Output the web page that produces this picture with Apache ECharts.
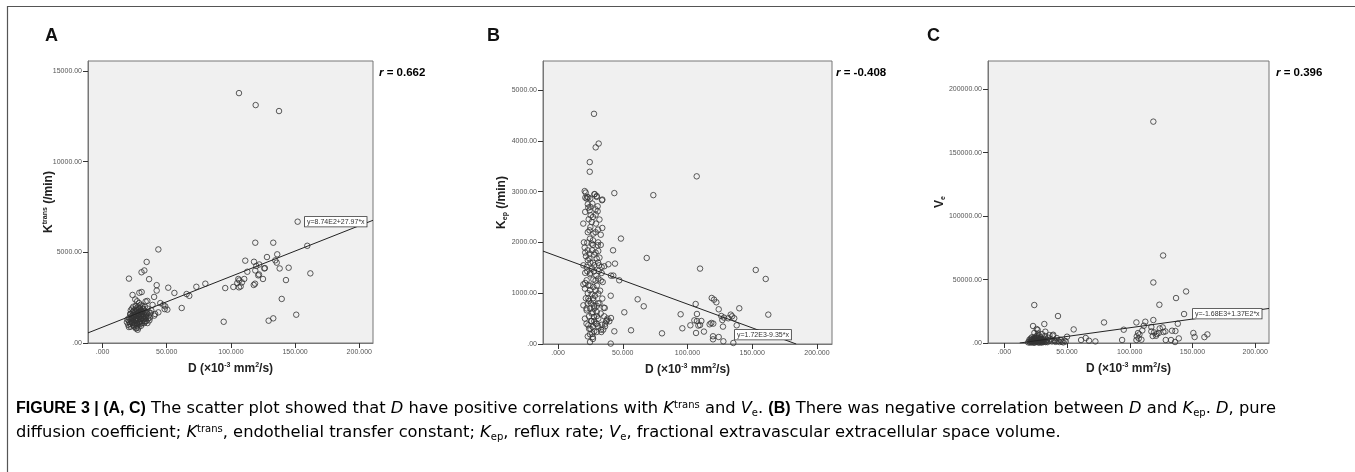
<!DOCTYPE html>
<html><head><meta charset="utf-8">
<script src="https://cdn.jsdelivr.net/npm/echarts@6/dist/echarts.min.js"></script>
<style>html,body{margin:0;padding:0;background:#fff}#c{width:1355px;height:472px}</style>
</head><body><div id="c"></div>
<script>
// ---------- data ----------
const panelLabels = ['A', 'B', 'C'];
const rValues = ['0.662', '-0.408', '0.396'];
const xTicks = [0, 50, 100, 150, 200];
const yTicksA = [0, 5000, 10000, 15000];
const yTicksB = [0, 1000, 2000, 3000, 4000, 5000];
const yTicksC = [0, 50000, 100000, 150000, 200000];
const fitA = [874, 27.97];     // intercept, slope
const fitB = [1720, -9.35];
const fitC = [-1680, 137];
const eqTexts = ['y=8.74E2+27.97*x', 'y=1.72E3-9.35*x', 'y=-1.68E3+1.37E2*x'];

const ptsA = [[106.3,13780],[119.3,13120],[137.5,12790],
[152,6690],[159.5,5360],[161.9,3840],[119,5530],[133,5530],[136.1,4890],[128.1,4740],[111.2,4540],[118,4480],[134.6,4560],[135.7,4430],[138,4110],[145,4150],[126.5,4130],[112.8,3930],[122.1,4330],[119.8,4250],[119,4000],[121.9,3780],[121.3,3730],[125,3530],[126,4110],[105.8,3530],[106.5,3450],[105,3310],[110.4,3530],[108.6,3340],[107.6,3120],[106.3,3070],[117.8,3200],[118.8,3270],[101.9,3090],[95.6,3030],[142.9,3470],[139.6,2430],[150.9,1560],[133,1360],[129.4,1230],[94.4,1170],[80.1,3270],[73.1,3100],[51.2,3050],[56,2760],[65.5,2700],[67.6,2600],[61.7,1930],[50.5,1840],
[43.5,5160],[34.4,4470],[32.6,4000],[30.4,3900],[36.3,3520],[20.6,3550],[42.2,3190],[42.2,2890],[30.5,2810],[28.7,2770],[23.4,2650],[40.2,2540],[34.9,2320],[33.6,2290],[48.9,2020],[47.4,2100],[48.4,1870],[43.5,1690],[40.3,1510],[41,1600],[38,1800],[37,1400],[45,2200],[39,2100],
[19,1150],[19.5,1300],[20.6,880],[27.4,730],[26.6,830],[21,1150],[22,1250],[21.5,1050],[22.5,1400],[23,1100],[23.5,1300],[24,1550],[24,1200],[24.5,1000],[25,1700],[25,1450],[25.5,1250],[26,1900],[26,1600],[26.5,1350],[26.5,1100],[27,1800],[27,950],[27.5,1500],[27.5,1250],[28,2000],[28,1700],[28.5,1400],[28.5,1150],[29,1900],[29,1600],[29.5,1300],[29.5,1050],[30,1800],[30,1500],[30.5,1200],[31,1700],[31,1400],[31.5,1900],[32,1600],[32,1300],[32.5,1100],[33,1750],[33.5,1450],[34,1200],[34.5,1650],[35,1900],[36,1500],[36.5,1250],[22,1600],[23,1900],[24,2000],[25,900],[26,800],[28,850],[29.5,2100],[31,2050],[30,950],[26,2050],[24.5,1800],[23,1500],[35.5,1350],[37.5,1650],[33,2000],[28.5,2200],[27,2300],[25.5,2400],
[20,1000],[20.5,1250],[21,1400],[21.5,1600],[22,900],[22.5,1150],[23,1350],[23.5,1700],[24,950],[24.5,1450],[25,1100],[25.5,1550],[26,1250],[26.5,1800],[27,1050],[27.5,1650],[28,1300],[28.5,1900],[29,1150],[29.5,1750],[30,1350],[30.5,1600],[31,1100],[31.5,1500],[32,1850],[32.5,1350],[33,1200],[34,1550],[35,1100],[36,1700],[22,1800],[24,1750],[26,1400],[28,1550],[30,1700],[32,1450],[34,1400]];

const ptsB = [[27.8,4530],[31.4,3945],[29.1,3870],[24.5,3580],[24.5,3390],[107.1,3300],[20.6,3010],[21.4,2980],[43.5,2970],[73.6,2930],[28.3,2950],[29.9,2895],[22.6,2895],[21.1,2880],[34.2,2843],
[23.4,2881],[22.1,2862],[24.9,2862],[29.9,2913],[28.1,2947],[34,2829],[26.5,2763],[30.6,2711],[23.4,2684],[24.4,2632],[30.6,2612],[25.2,2533],[29.1,2546],[23.7,2455],[26,2402],[29.3,2370],[34.2,2284],[30.9,2252],[24.4,2238],[27.3,2173],[24.7,2074],[27,2041],[22.6,1996],[26,1976],[30.6,1943],[20.6,1897],[22.9,1844],[26.3,1844],[31.1,1831],[24.4,1779],[27.8,1759],[21.6,1726],[24.2,1681],[29.9,1681],[19.6,1549],[22.1,1516],[26.3,1484],[31.7,1549],[33.7,1516],[22.6,1431],[27.8,1431],[31.4,1437],[33.7,1398],[24.7,1372],[29.6,1346],[27.3,1268],[31.1,1287],[34.5,1220],[22.1,1254],[19.6,1175],[23.4,1155],[27.3,1122],[20.8,1090],[24.7,1057],[29.1,1057],[26,978],[31.1,992],[34.2,894],[23.4,894],[27.3,860],[22.9,795],[19.6,762],[27.8,748],[35.3,716],[24.9,697],[22.1,663],[26.8,630],[29.9,630],[23.9,545],[27.8,531],[20.8,500],[31.1,500],[25.5,453],[29.1,401],[23.4,368],[26.8,335],[33.2,283],[29.9,236],[24.7,191],[26.5,205],[26.8,138],[24.7,39],
[19.5,2370],[20,2000],[21,1400],[25,1600],[28,1550],[32,1700],[33,1950],[30,1150],[32.5,1050],[21.5,900],[25.5,800],[28.5,950],[30,750],[33,600],[25,300],[28,450],[22,400],[31,350],[27,1950],[23,2200],[32,2450],
[21,2600],[23,2750],[25,2300],[27,2500],[29,2200],[31,2000],[33,2150],[21,1800],[23,1650],[25,1400],[27,1600],[29,1800],[31,1600],[33,1250],[21,1200],[23,1000],[25,1150],[27,900],[29,1250],[31,800],[22,700],[24,850],[26,600],[28,700],[30,550],[32,800],[24,300],[26,450],[28,250],[30,400],[23,150],[27,100],[25,2700],[29,2650],
[35.7,545],[37.6,467],[38.2,500],[36.5,400],[33.9,380],[34.9,282],[33.4,236],
[48.6,2075],[68.5,1693],[42.5,1844],[44,1582],[38.9,1569],[35.7,1530],[109.7,1484],[152.7,1457],[160.4,1280],[47.3,1254],[40.9,1346],[42.7,1346],[40.7,950],[61.5,880],[66.2,742],[106.3,787],[51.2,624],[94.7,585],[107.3,591],[140,703],[162.4,578],[118.7,906],[120.5,873],[122.3,821],[124.1,683],[43.5,250],[56.4,270],[80.3,210],[40.7,8],[135.4,20],[127.7,53],[119.7,92],[126.1,551],[128.2,520],[131.5,506],[134.4,545],[136.1,506],[138,368],[133.4,578],[127.4,342],[126.9,472],[119.9,401],[117.1,388],[118.4,414],[110.7,453],[109.7,374],[108.4,362],[105.3,466],[107.3,453],[112.7,244],[106.6,217],[102.2,368],[96,309],[119.7,152],[124.1,138],[40.9,512],[39.6,447],[37.3,447],[36.3,348],[36.1,709]];

const ptsC = [[118.8,174500],[126.6,68980],[118.8,47720],[144.9,40630],[136.9,35430],[123.6,30160],[23.9,29920],[143.3,22830],[42.8,21260],[79.5,16220],[105.3,16220],[118.8,18110],[138.3,15200],[95.2,10470],[55.3,10710],[50,4960],[31.9,14960],[22.9,13390],[150.7,7870],[151.7,4720],[159.5,4650],[161.9,6770],[139.1,3620],[93.9,2360],
[112.4,16770],[111.2,13620],[110,9920],[117.2,12600],[117.2,9130],[119.4,8350],[121,5750],[123.1,7870],[126.8,8660],[128.4,9130],[133.7,9690],[136.4,9450],[126.3,12280],[123.9,11500],[121.5,7090],[118.3,5510],[106.6,7870],[107.7,6770],[105.6,5200],[107.2,3620],[109.3,2600],[105.3,2360],[128.7,2360],[132.9,2360],[136.1,790],[61.2,2360],[64.9,3940],[67.5,1810],[72.6,1260],
[19,500],[20,1200],[20.5,300],[21,2000],[21.5,800],[22,3000],[22,1500],[22.5,400],[23,2500],[23,1000],[23.5,4000],[24,1800],[24,600],[24.5,3200],[25,1200],[25,5000],[25.5,2200],[26,800],[26,3800],[26.5,1600],[27,2800],[27,500],[27.5,6000],[28,2000],[28,1000],[28.5,3500],[29,1500],[29,4500],[29.5,700],[30,2500],[30.5,1200],[31,3000],[31.5,800],[32,2000],[32.5,5500],[33,1300],[34,2600],[34.5,700],[35,4200],[36,1800],[37,3000],[38,1200],[39,6500],[40,2200],[41,900],[42,3800],[43,1500],[45,2500],[46,1000],[48,1800],[25.8,11020],[26.6,10240],[32.7,8900],[27,7500],[24,8000],[30,7000],[36,6200],[38.5,5800],[40,1500],[44,800],[47,500],[49,1200],
[20,2500],[21,3500],[22,4500],[23,1800],[24,2800],[25,3500],[26,1500],[27,4200],[28,2600],[29,3000],[30,1700],[31,2200],[32,3400],[33,700],[26,5500],[28,300],[30,400],[24,200]];

// ---------- layout / style ----------
const FONT = 'Liberation Sans';
const grids = [
  {left: 88, top: 61, width: 285, height: 282},
  {left: 543, top: 61, width: 289, height: 283},
  {left: 988, top: 61, width: 281, height: 282}
];
const xRanges = [[-11.3, 210.7], [-11.6, 211.6], [-13, 211]];
const yMax = [15550, 5570, 222300];
const yTicks = [yTicksA, yTicksB, yTicksC];
const fits = [fitA, fitB, fitC];
const pts = [ptsA, ptsB, ptsC];
const yNames = ['{b|K}{sup|trans}{b| (/min)}', '{b|K}{sub|ep}{b| (/min)}', '{b|V}{sub|e}'];
const yNameGaps = [32, 34, 41];

const nameRich = {
  b: {fontFamily: FONT, fontWeight: 'bold', fontSize: 12, color: '#222', lineHeight: 14},
  sup: {fontFamily: FONT, fontWeight: 'bold', fontSize: 7, color: '#222', verticalAlign: 'top', lineHeight: 8},
  sub: {fontFamily: FONT, fontWeight: 'bold', fontSize: 7, color: '#222', verticalAlign: 'bottom', lineHeight: 8}
};

function fmtY(v) { const s = v.toFixed(2); return s.startsWith('0.') ? s.slice(1) : s; }
function fmtX(v) { const s = v.toFixed(3); return s.startsWith('0.') ? s.slice(1) : s; }

function fitLine(fit, xr) {
  let x0 = xr[0], x1 = xr[1];
  const root = -fit[0] / fit[1];
  const f = x => fit[0] + fit[1] * x;
  if (f(x0) < 0) x0 = root;
  if (f(x1) < 0) x1 = root;
  return [[x0, f(x0)], [x1, f(x1)]];
}

const axisLine = {show: true, onZero: false, lineStyle: {color: '#777', width: 1}};
const xAxes = [], yAxes = [], series = [];
for (let i = 0; i < 3; i++) {
  xAxes.push({
    type: 'value', gridIndex: i, min: xRanges[i][0], max: xRanges[i][1], position: 'bottom',
    axisLine: axisLine, splitLine: {show: false},
    axisTick: {show: true, inside: false, length: 5, customValues: xTicks, lineStyle: {color: '#333', width: 1}},
    axisLabel: {customValues: xTicks, formatter: fmtX, fontSize: 7, color: '#555', margin: 6, fontFamily: FONT},
    name: '{b|D (×10}{sup|-3}{b| mm}{sup|2}{b|/s)}', nameLocation: 'middle', nameGap: 19, nameMoveOverlap: false,
    nameTextStyle: {rich: nameRich}
  });
  yAxes.push({
    type: 'value', gridIndex: i, min: 0, max: yMax[i], position: 'left',
    axisLine: axisLine, splitLine: {show: false},
    axisTick: {show: true, inside: false, length: 5, customValues: yTicks[i], lineStyle: {color: '#333', width: 1}},
    axisLabel: {customValues: yTicks[i], formatter: fmtY, fontSize: 7, color: '#555', margin: 6, fontFamily: FONT},
    name: yNames[i], nameLocation: 'middle', nameGap: yNameGaps[i], nameRotate: 90, nameMoveOverlap: false,
    nameTextStyle: {rich: nameRich}
  });
  series.push({
    type: 'line', xAxisIndex: i, yAxisIndex: i, data: fitLine(fits[i], xRanges[i]),
    symbol: 'none', silent: true, lineStyle: {color: '#222', width: 1}, z: 3, clip: true
  });
  series.push({
    type: 'scatter', xAxisIndex: i, yAxisIndex: i, data: pts[i], symbol: 'circle', symbolSize: 5.5,
    itemStyle: {color: 'rgba(0,0,0,0)', borderColor: '#333', borderWidth: 1}, z: 2
  });
}

const CF = 'DejaVu Sans';
const CS = 16.3;
const capRich = {
  n: {fontFamily: CF, fontSize: CS, color: '#333', lineHeight: 18},
  b: {fontFamily: FONT, fontSize: 16, fontWeight: 'bold', color: '#222', lineHeight: 18},
  i: {fontFamily: CF, fontSize: CS, fontStyle: 'italic', color: '#333', lineHeight: 18},
  sup: {fontFamily: CF, fontSize: 10, color: '#333', verticalAlign: 'top', lineHeight: 11},
  sub: {fontFamily: CF, fontSize: 10, color: '#333', verticalAlign: 'bottom', lineHeight: 9}
};
const cap1 = '{b|FIGURE 3 | (A, C)}{n| The scatter plot showed that }{i|D}{n| have positive correlations with }{i|K}{sup|trans}{n| and }{i|V}{sub|e}{n|. }{b|(B)}{n| There was negative correlation between }{i|D}{n| and }{i|K}{sub|ep}{n|. }{i|D}{n|, pure}';
const cap2 = '{n|diffusion coefficient; }{i|K}{sup|trans}{n|, endothelial transfer constant; }{i|K}{sub|ep}{n|, reflux rate; }{i|V}{sub|e}{n|, fractional extravascular extracellular space volume.}';

const rRich = {
  i: {fontFamily: FONT, fontSize: 11.5, fontWeight: 'bold', fontStyle: 'italic', color: '#222'},
  n: {fontFamily: FONT, fontSize: 11.5, fontWeight: 'bold', color: '#222'}
};

const letterX = [45, 487, 927];
const rX = [379, 836, 1276];
const eqPos = [[305, 217], [735, 330], [1193, 309]];

const graphic = [
  {type: 'rect', shape: {x: 7.5, y: 6.5, width: 1400, height: 500}, style: {fill: 'none', stroke: '#555', lineWidth: 1.2}, z: 0, silent: true}
];
for (let i = 0; i < 3; i++) {
  graphic.push({type: 'text', x: letterX[i], y: 27, z: 10,
    style: {text: panelLabels[i], font: 'bold 18px ' + FONT, fill: '#111'}});
  graphic.push({type: 'text', x: rX[i], y: 67, z: 10,
    style: {text: '{i|r}{n| = ' + rValues[i] + '}', rich: rRich}});
  graphic.push({type: 'text', x: eqPos[i][0], y: eqPos[i][1], z: 100,
    style: {text: eqTexts[i], font: '7px ' + FONT, fill: '#333', backgroundColor: '#fff',
      borderColor: '#333', borderWidth: 0.8, padding: [1.5, 2, 1, 2]}});
}
graphic.push({type: 'text', x: 16, y: 400, z: 10, style: {text: cap1, rich: capRich}});
graphic.push({type: 'text', x: 16, y: 424, z: 10, style: {text: cap2, rich: capRich}});

const chart = echarts.init(document.getElementById('c'), null, {renderer: 'canvas'});
chart.setOption({
  animation: false,
  backgroundColor: '#fff',
  grid: grids.map(g => Object.assign({show: true, backgroundColor: '#f0f0f0', borderColor: '#777', borderWidth: 1, containLabel: false}, g)),
  xAxis: xAxes, yAxis: yAxes, series: series, graphic: graphic
});
</script></body></html>
